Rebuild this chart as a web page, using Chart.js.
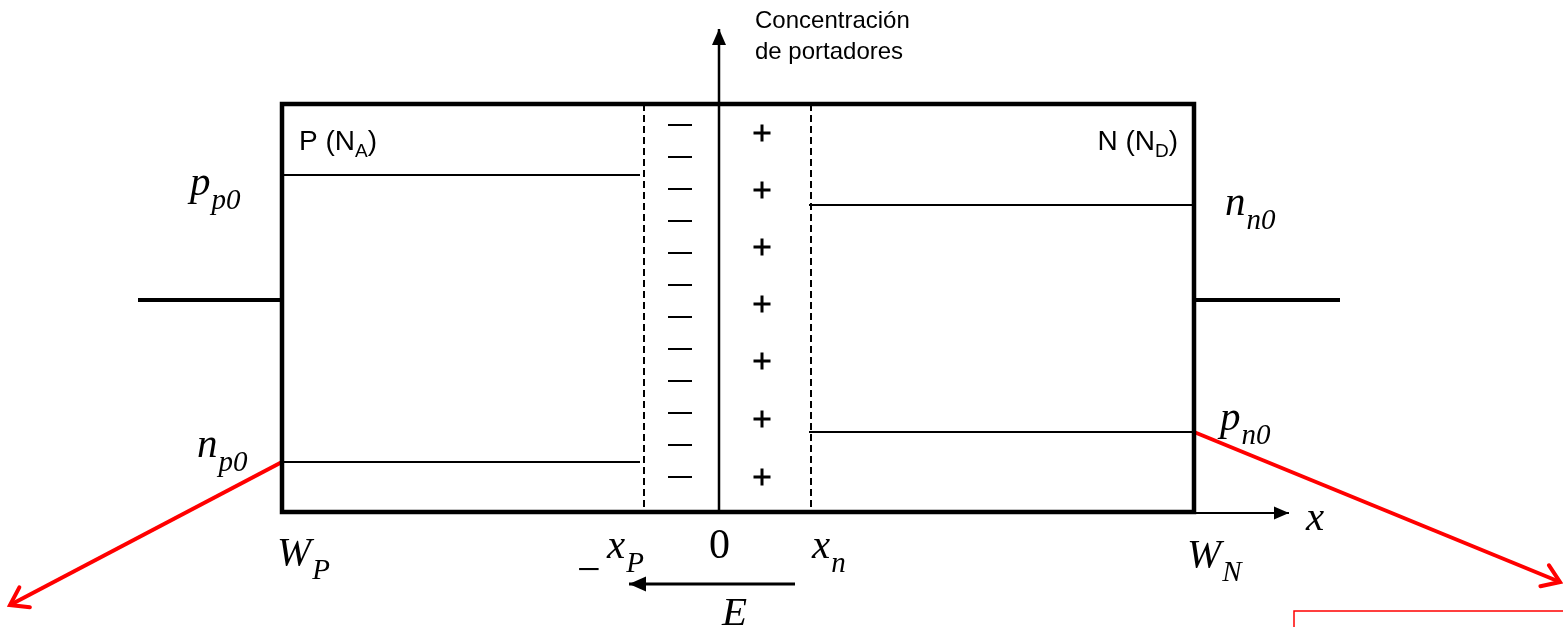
<!DOCTYPE html>
<html>
<head>
<meta charset="utf-8">
<script src="https://cdn.jsdelivr.net/npm/chart.js@4"></script>
<style>
  html, body { margin: 0; padding: 0; background: #fff; }
  #wrap { width: 1563px; height: 627px; position: relative; }
</style>
</head>
<body>
<div id="wrap"><canvas id="myCanvas"></canvas></div>
<script>
// diagram units follow the original drawing, y grows downward
const boxLeft = 282, boxRight = 1194, boxTop = 104, boxBottom = 512;
const depletionEdges = [644, 811];
const originX = 719;
const leadY = 300;
const pLevels = [175, 462];    // p_p0, n_p0
const nLevels = [205, 432];    // n_n0, p_n0
const minusY = [125, 157, 189, 221, 253, 285, 317, 349, 381, 413, 445, 477];
const plusY = [133, 190, 247, 304, 361, 419, 477];
const minusX = 680, plusX = 762;

const mathLabels = [
  { main: 'p', sub: 'p0', x: 190, y: 195 },
  { main: 'n', sub: 'n0', x: 1225, y: 215 },
  { main: 'n', sub: 'p0', x: 197, y: 457 },
  { main: 'p', sub: 'n0', x: 1220, y: 430 },
  { main: 'W', sub: 'P', x: 277, y: 565 },
  { main: 'x', sub: 'P', x: 607, y: 558 },
  { main: 'x', sub: 'n', x: 812, y: 558 },
  { main: 'W', sub: 'N', x: 1187, y: 567 },
  { main: 'x', sub: '', x: 1306, y: 530 },
  { main: 'E', sub: '', x: 722, y: 625 }
];
const plainMath = [
  { text: '\u2212', x: 577, y: 583 },
  { text: '0', x: 709, y: 558 }
];
const regionLabels = [
  { main: 'P (N', sub: 'A', tail: ')', x: 299, y: 150, align: 'left' },
  { main: 'N (N', sub: 'D', tail: ')', x: 1178, y: 150, align: 'right' }
];
const axisTitle = ['Concentración', 'de portadores'];

function seg(a, b) { return [{ x: a[0], y: a[1] }, { x: b[0], y: b[1] }]; }

function line(data, color, width, extra) {
  return Object.assign({
    data: data, showLine: true, borderColor: color, borderWidth: width,
    pointRadius: 0, tension: 0, fill: false
  }, extra || {});
}

const datasets = [
  line([
    { x: boxLeft, y: boxTop }, { x: boxRight, y: boxTop },
    { x: boxRight, y: boxBottom }, { x: boxLeft, y: boxBottom },
    { x: boxLeft, y: boxTop }
  ], '#000', 4.5, { borderCapStyle: 'square', borderJoinStyle: 'miter' }),
  line(seg([138, leadY], [boxLeft, leadY]), '#000', 4),
  line(seg([boxRight, leadY], [1340, leadY]), '#000', 4),
  line(seg([originX, boxBottom], [originX, 29]), '#000', 2.5, { arrow: 'solid', head: [16, 7] }),
  line(seg([depletionEdges[0], boxTop], [depletionEdges[0], boxBottom]), '#000', 2, { borderDash: [7, 4] }),
  line(seg([depletionEdges[1], boxTop], [depletionEdges[1], boxBottom]), '#000', 2, { borderDash: [7, 4] }),
  ...pLevels.map(v => line(seg([boxLeft, v], [640, v]), '#000', 2)),
  ...nLevels.map(v => line(seg([809, v], [boxRight, v]), '#000', 2)),
  line(seg([boxRight, 513], [1289, 513]), '#000', 2, { arrow: 'solid', head: [15, 6.5] }),
  line(seg([795, 584], [629, 584]), '#000', 3, { arrow: 'solid', head: [17, 7.5] }),
  line(seg([boxLeft, pLevels[1]], [10, 605]), '#ff0000', 4, { arrow: 'open', head: [20, 0.6] }),
  line(seg([boxRight, nLevels[1]], [1560, 582]), '#ff0000', 4, { arrow: 'open', head: [20, 0.6] }),
  line([{ x: 1294, y: 660 }, { x: 1294, y: 611 }, { x: 1620, y: 611 }], '#ff0000', 1.5),
  {
    data: minusY.map(v => ({ x: minusX, y: v })),
    pointStyle: 'line', pointRadius: 12, borderColor: '#000', borderWidth: 2, showLine: false
  },
  {
    data: plusY.map(v => ({ x: plusX, y: v })),
    pointStyle: 'cross', pointRadius: 8.5, borderColor: '#000', borderWidth: 3, showLine: false
  }
];

const arrowPlugin = {
  id: 'arrowHeads',
  afterDatasetsDraw(chart) {
    const ctx = chart.ctx;
    chart.data.datasets.forEach((ds, i) => {
      if (!ds.arrow) return;
      const pts = chart.getDatasetMeta(i).data;
      const a = pts[pts.length - 2], b = pts[pts.length - 1];
      const ang = Math.atan2(b.y - a.y, b.x - a.x);
      const len = ds.head[0];
      ctx.save();
      ctx.translate(b.x, b.y);
      ctx.rotate(ang);
      ctx.fillStyle = ds.borderColor;
      ctx.strokeStyle = ds.borderColor;
      if (ds.arrow === 'solid') {
        ctx.beginPath();
        ctx.moveTo(0, 0);
        ctx.lineTo(-len, -ds.head[1]);
        ctx.lineTo(-len, ds.head[1]);
        ctx.closePath();
        ctx.fill();
      } else {
        const t = ds.head[1];
        ctx.lineWidth = ds.borderWidth;
        ctx.lineCap = 'round';
        ctx.beginPath();
        ctx.moveTo(-len * Math.cos(t), -len * Math.sin(t));
        ctx.lineTo(0, 0);
        ctx.lineTo(-len * Math.cos(t), len * Math.sin(t));
        ctx.stroke();
      }
      ctx.restore();
    });
  }
};

const textPlugin = {
  id: 'diagramText',
  afterDatasetsDraw(chart) {
    const ctx = chart.ctx;
    const sx = chart.scales.x, sy = chart.scales.y;
    ctx.save();
    ctx.fillStyle = '#000';
    ctx.textBaseline = 'alphabetic';
    ctx.textAlign = 'left';

    mathLabels.forEach(l => {
      const px = sx.getPixelForValue(l.x), py = sy.getPixelForValue(l.y);
      ctx.font = 'italic 41px "Liberation Serif", serif';
      ctx.fillText(l.main, px, py);
      if (l.sub) {
        const w = ctx.measureText(l.main).width;
        ctx.font = 'italic 29px "Liberation Serif", serif';
        ctx.fillText(l.sub, px + w + 1, py + 14);
      }
    });
    plainMath.forEach(l => {
      ctx.font = '42px "Liberation Serif", serif';
      ctx.fillText(l.text, sx.getPixelForValue(l.x), sy.getPixelForValue(l.y));
    });

    regionLabels.forEach(l => {
      ctx.font = '28px "Liberation Sans", Arial, sans-serif';
      const w1 = ctx.measureText(l.main).width;
      const w3 = ctx.measureText(l.tail).width;
      ctx.font = '19px "Liberation Sans", Arial, sans-serif';
      const w2 = ctx.measureText(l.sub).width;
      let px = sx.getPixelForValue(l.x);
      const py = sy.getPixelForValue(l.y);
      if (l.align === 'right') px -= w1 + w2 + w3;
      ctx.font = '28px "Liberation Sans", Arial, sans-serif';
      ctx.fillText(l.main, px, py);
      ctx.fillText(l.tail, px + w1 + w2, py);
      ctx.font = '19px "Liberation Sans", Arial, sans-serif';
      ctx.fillText(l.sub, px + w1, py + 7);
    });

    ctx.font = '24px "Liberation Sans", Arial, sans-serif';
    axisTitle.forEach((t, i) => {
      ctx.fillText(t, sx.getPixelForValue(755), sy.getPixelForValue(28 + i * 31));
    });
    ctx.restore();
  }
};

const ctx = document.getElementById('myCanvas').getContext('2d');
const chart = new Chart(ctx, {
  type: 'scatter',
  data: { datasets: datasets },
  options: {
    responsive: true,
    maintainAspectRatio: false,
    animation: false,
    layout: { padding: 0, autoPadding: false },
    scales: {
      x: { type: 'linear', min: 0, max: 1563, display: false },
      y: { type: 'linear', min: 0, max: 627, reverse: true, display: false }
    },
    plugins: {
      legend: { display: false },
      tooltip: { enabled: false }
    },
    events: []
  },
  plugins: [arrowPlugin, textPlugin]
});
</script>
</body>
</html>
